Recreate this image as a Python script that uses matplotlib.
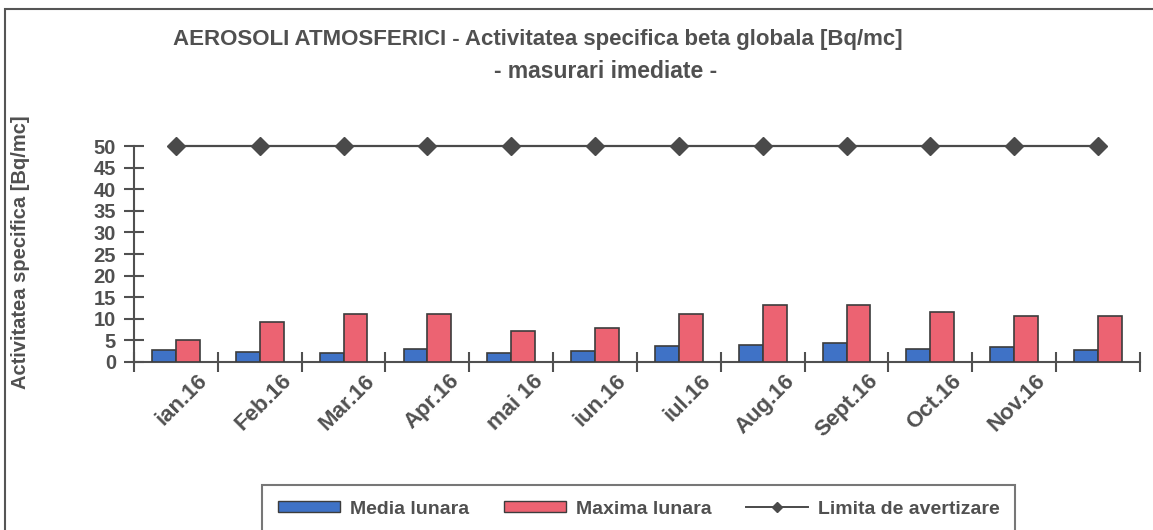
import matplotlib
matplotlib.use("Agg")
import matplotlib.pyplot as plt
from matplotlib.patches import Rectangle
from matplotlib.lines import Line2D
import numpy as np

months = ["ian.16", "Feb.16", "Mar.16", "Apr.16", "mai 16", "iun.16",
          "iul.16", "Aug.16", "Sept.16", "Oct.16", "Nov.16", ""]
media = [2.7, 2.2, 2.1, 2.9, 2.1, 2.6, 3.7, 3.9, 4.5, 3.1, 3.5, 2.7]
maxima = [5.2, 9.2, 11.1, 11.1, 7.1, 7.9, 11.2, 13.2, 13.2, 11.6, 10.7, 10.7]
limita = [50] * 12

FONT = ["Liberation Sans", "DejaVu Sans"]
GREY = "#505050"
plt.rcParams["font.family"] = FONT
plt.rcParams["font.weight"] = "bold"

fig = plt.figure(figsize=(11.53, 5.30), dpi=100)
ax = fig.add_axes([0.1162, 0.317, 0.8725, 0.4075])

x = np.arange(len(months)) + 0.5
w = 0.285
ax.bar(x - w / 2, media, w, color="#3f72c6", edgecolor="#3c3c3c",
       linewidth=1.2, zorder=3)
ax.bar(x + w / 2, maxima, w, color="#ec6372", edgecolor="#3c3c3c",
       linewidth=1.2, zorder=3)
ax.plot(x, limita, "-D", color="#4a4a4a", markersize=9, linewidth=1.6,
        clip_on=False, zorder=4)

ax.set_xlim(0, 12)
ax.set_ylim(0, 50)
ax.set_yticks(range(0, 51, 5))
ax.set_xticks(np.arange(0, 13))
ax.set_xticklabels([])
# rotated labels end a little right of the category centre, as in Excel
ax.set_xticks(x + 0.25, minor=True)
ax.set_xticklabels(months, minor=True, rotation=45, ha="right",
                   rotation_mode="anchor", fontsize=16, color=GREY, fontweight="bold")
ax.tick_params(axis="x", which="minor", length=0, pad=6)
ax.tick_params(axis="x", which="major", direction="inout", length=14, width=1.5, color=GREY)
ax.tick_params(axis="y", direction="inout", length=14, width=1.5, color=GREY,
               labelsize=14.5, labelcolor=GREY, pad=6)
for lab in ax.get_yticklabels():
    lab.set_fontweight("bold")
for s in ["top", "right"]:
    ax.spines[s].set_visible(False)
for s in ["left", "bottom"]:
    ax.spines[s].set_color(GREY)
    ax.spines[s].set_linewidth(1.5)

fig.text(538 / 1153, 1 - 40 / 530,
         "AEROSOLI ATMOSFERICI - Activitatea specifica beta globala [Bq/mc]",
         ha="center", va="center", fontsize=16, color=GREY, fontweight="bold")
fig.text(606 / 1153, 1 - 72 / 530, "- masurari imediate -",
         ha="center", va="center", fontsize=16.5, color=GREY, fontweight="bold")
fig.text(21 / 1153, 1 - 252 / 530, "Activitatea specifica [Bq/mc]", rotation=90,
         ha="center", va="center", fontsize=14.5, color=GREY, fontweight="bold")

# outer chart frame
fig.patches.append(Rectangle((0.004, -0.5), 1.2, 0.5 + 1 - 9 / 530,
                             transform=fig.transFigure, fill=False,
                             edgecolor="#555555", linewidth=1.5))

handles = [
    Rectangle((0, 0), 1, 1, facecolor="#3f72c6", edgecolor="#3c3c3c"),
    Rectangle((0, 0), 1, 1, facecolor="#ec6372", edgecolor="#3c3c3c"),
    Line2D([], [], color="#4a4a4a", marker="D", markersize=5, linewidth=1.4),
]
leg = fig.legend(handles, ["Media lunara", "Maxima lunara", "Limita de avertizare"],
                 loc="upper left", bbox_to_anchor=(262 / 1153, 1 - 485 / 530),
                 borderaxespad=0, ncol=3, frameon=True, fancybox=False, fontsize=14,
                 handlelength=3.2, handleheight=0.5, columnspacing=1.8,
                 borderpad=0.8, handletextpad=0.5)
leg.get_frame().set_edgecolor("#555555")
leg.get_frame().set_linewidth(1.5)
for t in leg.get_texts():
    t.set_color(GREY)
    t.set_fontweight("bold")

fig.savefig("out.png", dpi=100)
